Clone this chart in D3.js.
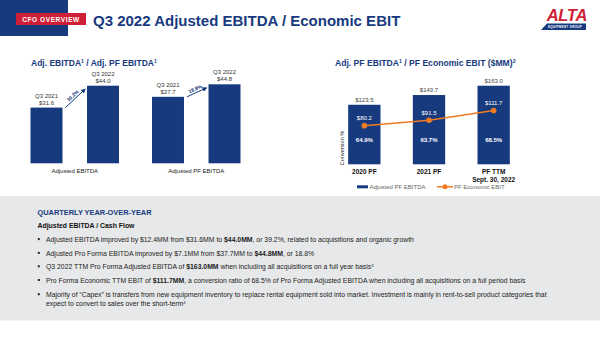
<!DOCTYPE html>
<meta charset=utf-8>
<style>
body { margin: 0; background: white }
svg { display: block; font-family: "Liberation Sans", Arial, sans-serif }
</style>
<script src="https://cdn.jsdelivr.net/npm/d3@7"></script>
<body>
<svg width=600 height=337 id=slide></svg>
<script>
const navy = "#173a7e", orange = "#f07b22", red = "#cf1f36", grey = "#e7e8e9";

// quarter over quarter bars
const groups = ["Adjusted EBITDA", "Adjusted PF EBITDA"];
const periods = ["Q3 2021", "Q3 2022"];
const quarterly = [[31.6, 44.0], [37.7, 44.8]];

// trailing years, bars + line
const years = ["2020 PF", "2021 PF", "PF TTM|Sept. 30, 2022"];
const pfEbitda = [123.5, 143.7, 163.0];
const pfEbit = [80.2, 91.5, 111.7];

// commentary; **bold**, ^n superscript
const bullets = [
	"Adjusted EBITDA improved by $12.4MM from $31.6MM to **$44.0MM**, or 39.2%, related to acquisitions and organic growth",
	"Adjusted Pro Forma EBITDA improved by $7.1MM from $37.7MM to **$44.8MM**, or 18.8%",
	"Q3 2022 TTM Pro Forma Adjusted EBITDA of **$163.0MM** when including all acquisitions on a full year basis^3",
	"Pro Forma Economic TTM EBIT of **$111.7MM**, a conversion ratio of 68.5% of Pro Forma Adjusted EBITDA when including all acquisitions on a full period basis",
	"Majority of \u201cCapex\u201d is transfers from new equipment inventory to replace rental equipment sold into market.  Investment is mainly in rent-to-sell product categories that|expect to convert to sales over the short-term^4"
];

const svg = d3.select("#slide");
const fmt = d3.format(".1f"), pct = d3.format(".1%");

function rich(t, str, size) {
	for (const part of str.split(/(\*\*.*?\*\*|\^\d)/).filter(s => s)) {
		if (part.startsWith("**")) t.append("tspan").attr("font-weight", "bold").text(part.slice(2, -2));
		else if (part.startsWith("^")) t.append("tspan").attr("font-size", size * 0.6).attr("baseline-shift", "super").text(part.slice(1));
		else t.append("tspan").text(part);
	}
}

svg.append("defs").append("marker")
	.attr("id", "head").attr("viewBox", "0 0 10 10").attr("refX", 8).attr("refY", 5)
	.attr("markerWidth", 5).attr("markerHeight", 5).attr("orient", "auto")
	.append("path").attr("d", "M0,0L10,5L0,10z").attr("fill", navy);

// header
svg.append("rect").attr("width", 68).attr("height", 36).attr("fill", navy);
svg.append("rect").attr("x", 16).attr("y", 13).attr("width", 70).attr("height", 12).attr("fill", red);
svg.append("text").attr("x", 51).attr("y", 21.5).attr("text-anchor", "middle")
	.attr("fill", "white").attr("font-size", 6.5).attr("font-weight", "bold").attr("letter-spacing", 0.6)
	.text("CFO OVERVIEW");
svg.append("text").attr("x", 93).attr("y", 26).attr("fill", navy)
	.attr("font-size", 15).attr("font-weight", "bold")
	.text("Q3 2022 Adjusted EBITDA / Economic EBIT");

// logo
svg.append("text").attr("x", 587).attr("y", 21).attr("text-anchor", "end")
	.attr("fill", red).attr("font-size", 16.5).attr("font-weight", "bold").attr("font-style", "italic")
	.attr("letter-spacing", -0.3).text("ALTA");
svg.append("polygon").attr("points", "547,23.5 586,23.5 586,30 541,30").attr("fill", navy);
svg.append("text").attr("x", 565).attr("y", 28.3).attr("text-anchor", "middle")
	.attr("fill", "white").attr("font-size", 3).attr("font-weight", "bold").attr("letter-spacing", 0.3)
	.text("EQUIPMENT GROUP");

// panel titles
const t1 = svg.append("text").attr("x", 31).attr("y", 65.5).attr("fill", navy).attr("font-size", 8.5).attr("font-weight", "bold");
rich(t1, "Adj. EBITDA^1 / Adj. PF EBITDA^1", 8.5);
const t2 = svg.append("text").attr("x", 335).attr("y", 65.5).attr("fill", navy).attr("font-size", 8.6).attr("font-weight", "bold");
rich(t2, "Adj. PF EBITDA^1 / PF Economic EBIT ($MM)^2", 8.6);

// left chart
const x0 = d3.scaleBand().domain(groups).range([14, 257]);
const x1 = d3.scaleBand().domain(periods).range([0, x0.bandwidth()]).paddingInner(0.434).paddingOuter(0.292);
const yL = d3.scaleLinear().domain([0, 44.8]).range([163.3, 84.3]);

const g = svg.append("g").selectAll("g").data(groups).join("g")
	.attr("transform", d => `translate(${x0(d)},0)`);
g.selectAll("rect").data((d, i) => quarterly[i]).join("rect")
	.attr("x", (d, j) => x1(periods[j])).attr("width", x1.bandwidth())
	.attr("y", d => yL(d)).attr("height", d => yL(0) - yL(d)).attr("fill", navy);
g.selectAll(".per").data((d, i) => quarterly[i]).join("text")
	.attr("x", (d, j) => x1(periods[j]) + x1.bandwidth() / 2).attr("y", d => yL(d) - 10)
	.attr("text-anchor", "middle").attr("font-size", 6).attr("fill", "#333")
	.text((d, j) => periods[j]);
g.selectAll(".val").data((d, i) => quarterly[i]).join("text")
	.attr("x", (d, j) => x1(periods[j]) + x1.bandwidth() / 2).attr("y", d => yL(d) - 3)
	.attr("text-anchor", "middle").attr("font-size", 6).attr("fill", "#333")
	.text(d => "$" + fmt(d));
g.append("text").attr("x", x0.bandwidth() / 2).attr("y", 172.5).attr("text-anchor", "middle")
	.attr("font-size", 6).attr("fill", "#222").text(d => d);

// growth arrows between the two quarters
g.each(function (d, i) {
	const [a, b] = quarterly[i];
	const xa = x1(periods[0]) + x1.bandwidth() + 3, ya = yL(a);
	const xb = x1(periods[1]) - 2, yb = yL(b) + 3.5;
	const sel = d3.select(this);
	sel.append("line").attr("x1", xa).attr("y1", ya).attr("x2", xb).attr("y2", yb)
		.attr("stroke", navy).attr("stroke-width", 1).attr("marker-end", "url(#head)");
	const ang = Math.atan2(yb - ya, xb - xa) * 180 / Math.PI;
	sel.append("text")
		.attr("transform", `translate(${(xa + xb) / 2},${(ya + yb) / 2}) rotate(${ang}) translate(0,-2)`)
		.attr("text-anchor", "middle").attr("font-size", 5).attr("font-weight", "bold").attr("fill", navy)
		.text(pct(b / a - 1));
});

// right chart
const xR = d3.scaleBand().domain(years).range([332, 526]).paddingInner(0.5).paddingOuter(0.25);
const yR = d3.scaleLinear().domain([0, 340]).range([164.3, 0.4]);
const cx = d => xR(d) + xR.bandwidth() / 2;
const r = svg.append("g");

r.selectAll("rect").data(years).join("rect")
	.attr("x", d => xR(d)).attr("width", xR.bandwidth())
	.attr("y", (d, i) => yR(pfEbitda[i])).attr("height", (d, i) => yR(0) - yR(pfEbitda[i]))
	.attr("fill", navy);
r.selectAll(".top").data(years).join("text")
	.attr("x", cx).attr("y", (d, i) => yR(pfEbitda[i]) - 3)
	.attr("text-anchor", "middle").attr("font-size", 6).attr("fill", "#444")
	.text((d, i) => "$" + fmt(pfEbitda[i]));
r.selectAll(".conv").data(years).join("text")
	.attr("x", cx).attr("y", 142)
	.attr("text-anchor", "middle").attr("font-size", 6).attr("font-weight", "bold").attr("fill", "white")
	.text((d, i) => pct(pfEbit[i] / pfEbitda[i]));

r.append("path").datum(years)
	.attr("d", d3.line().x(cx).y((d, i) => yR(pfEbit[i])))
	.attr("fill", "none").attr("stroke", orange).attr("stroke-width", 1.5);
r.selectAll("circle").data(years).join("circle")
	.attr("cx", cx).attr("cy", (d, i) => yR(pfEbit[i])).attr("r", 2.8).attr("fill", orange);
r.selectAll(".ebit").data(years).join("text")
	.attr("x", cx).attr("y", (d, i) => yR(pfEbit[i]) - 5.5)
	.attr("text-anchor", "middle").attr("font-size", 6).attr("fill", "white")
	.text((d, i) => "$" + fmt(pfEbit[i]));

r.append("text").attr("transform", "translate(343.5,148) rotate(-90)")
	.attr("text-anchor", "middle").attr("font-size", 5.5).attr("fill", "#333").text("Conversion %");

r.selectAll(".cat").data(years).join("text")
	.attr("y", 173.5).attr("text-anchor", "middle").attr("font-size", 6.5).attr("font-weight", "bold").attr("fill", "#111")
	.selectAll("tspan").data(d => d.split("|").map(s => [d, s])).join("tspan")
	.attr("x", d => cx(d[0])).attr("dy", (d, i) => i ? 8 : 0).text(d => d[1]);

// legend
const lg = svg.append("g").attr("font-size", 6).attr("fill", "#666");
lg.append("rect").attr("x", 357).attr("y", 185.3).attr("width", 11).attr("height", 3).attr("fill", navy);
lg.append("text").attr("x", 369.5).attr("y", 189).text("Adjusted PF EBITDA");
lg.append("line").attr("x1", 437).attr("x2", 453).attr("y1", 186.8).attr("y2", 186.8).attr("stroke", orange).attr("stroke-width", 1.5);
lg.append("circle").attr("cx", 445).attr("cy", 186.8).attr("r", 2.5).attr("fill", orange);
lg.append("text").attr("x", 454).attr("y", 189).text("PF Economic EBIT");

// commentary panel
svg.append("rect").attr("y", 196).attr("width", 600).attr("height", 124.5).attr("fill", grey);
svg.append("text").attr("x", 37.5).attr("y", 214.6).attr("fill", navy)
	.attr("font-size", 7.4).attr("font-weight", "bold").text("QUARTERLY YEAR-OVER-YEAR");
svg.append("text").attr("x", 37.5).attr("y", 228).attr("fill", "#111")
	.attr("font-size", 6.9).attr("font-weight", "bold").text("Adjusted EBITDA / Cash Flow");

const rowY = [241.7, 255.5, 268.9, 282.6, 296.8];
bullets.forEach((b, i) => {
	svg.append("rect").attr("x", 37.8).attr("y", rowY[i] - 3.6).attr("width", 2).attr("height", 2).attr("fill", "#222");
	b.split("|").forEach((line, k) => {
		const t = svg.append("text").attr("x", 46).attr("y", rowY[i] + k * 8.8)
			.attr("font-size", 6.85).attr("fill", "#222");
		rich(t, line, 6.85);
	});
});
</script>
</body>
